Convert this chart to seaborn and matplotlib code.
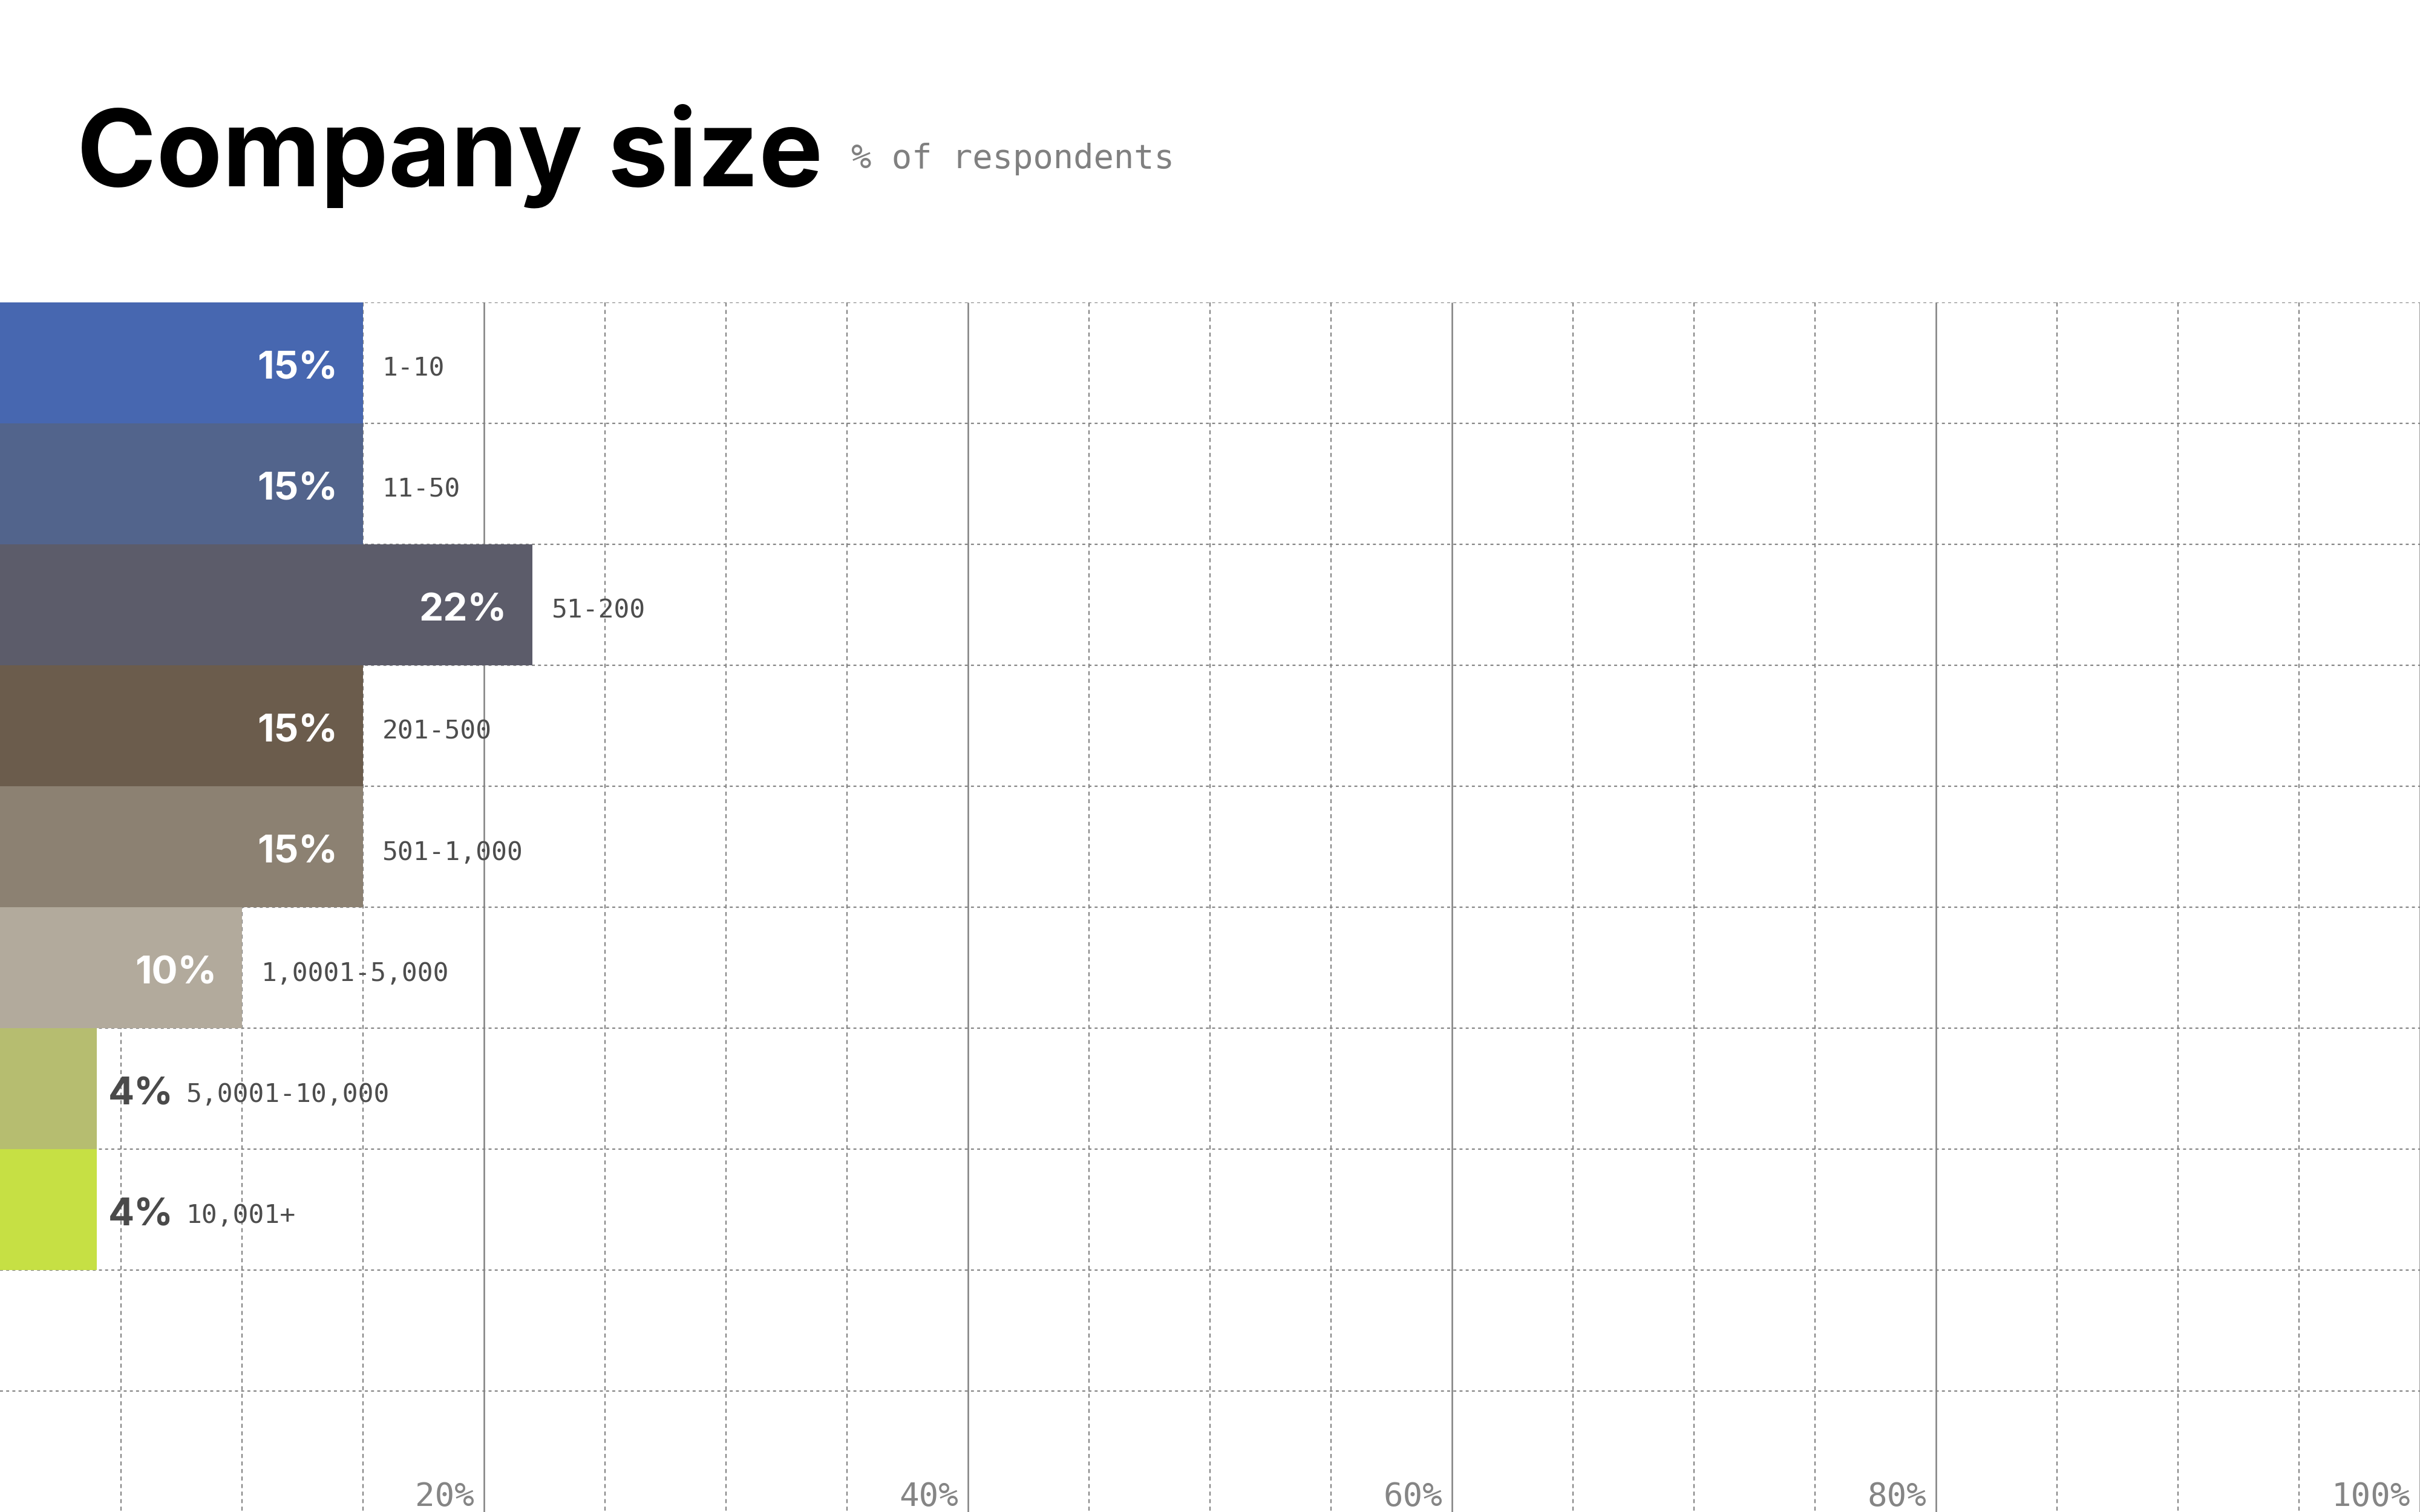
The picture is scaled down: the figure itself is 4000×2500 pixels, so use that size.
import numpy as np
import matplotlib
matplotlib.use("Agg")
import matplotlib.pyplot as plt
import seaborn as sns

# ---- data ----
categories = ["1-10", "11-50", "51-200", "201-500", "501-1,000",
              "1,0001-5,000", "5,0001-10,000", "10,001+"]
values = [15, 15, 22, 15, 15, 10, 4, 4]
bar_colors = ["#4767b0", "#52648c", "#5c5c6a", "#6b5c4c", "#8c8172",
              "#b2aa9c", "#b6bd70", "#c6e044"]
tick_values = [20, 40, 60, 80, 100]
title_text = "Company size"
subtitle_text = "% of respondents"

sns.set_style("white")
plt.rcParams["font.family"] = ["DejaVu Sans"]

W, H, DPI = 4000, 2500, 100
fig = plt.figure(figsize=(W / DPI, H / DPI), dpi=DPI)
fig.patch.set_facecolor("white")
ax = fig.add_axes([0, 0, 1, 0.8])

sns.barplot(x=values, y=categories, hue=categories, palette=bar_colors,
            orient="h", width=1.0, legend=False, ax=ax, linewidth=0,
            saturation=1, zorder=3)

ax.set_xlim(0, 100)
ax.set_ylim(9.5, -0.5)
ax.set_xticks([])
ax.set_yticks([])
ax.set_xlabel("")
ax.set_ylabel("")
for s in ax.spines.values():
    s.set_visible(False)

# ---- grid ----
grid_col = "#858585"
minor_x = [x for x in np.arange(5, 100, 5) if x % 20 != 0]
ax.vlines(minor_x, -0.5, 9.5, colors=grid_col, linewidth=1.6,
          linestyles=(0, (3.0, 2.6)), zorder=1)
ax.vlines(tick_values, -0.5, 9.5, colors="#808080", linewidth=1.8,
          linestyles="solid", zorder=1)
ax.hlines(np.arange(-0.5, 9.0, 1.0), 0, 100, colors=grid_col, linewidth=1.6,
          linestyles=(0, (2.2, 2.4)), zorder=1)

# ---- labels ----
val_font = dict(family=["Inter", "DejaVu Sans"], weight="bold", fontsize=46)
cat_font = dict(family=["DejaVu Sans Mono"], fontsize=31, color="#4d4d4d")
dy = -10  # pixels, visual centring of the digits on the bar centre

for i, (v, c) in enumerate(zip(values, categories)):
    if v >= 10:
        ax.annotate(f"{v}%", xy=(v, i), xytext=(-42, dy),
                    textcoords="offset pixels", ha="right", va="center",
                    color="white", zorder=5, **val_font)
        ax.annotate(c, xy=(v, i), xytext=(32, dy), textcoords="offset pixels",
                    ha="left", va="center", zorder=5, **cat_font)
    else:
        ax.annotate(f"{v}%", xy=(v, i), xytext=(19, dy),
                    textcoords="offset pixels", ha="left", va="center",
                    color="#4a4a4a", zorder=5, **val_font)
        ax.annotate(c, xy=(v, i), xytext=(148, dy),
                    textcoords="offset pixels", ha="left", va="center",
                    zorder=5, **cat_font)

for tv in tick_values:
    ax.annotate(f"{tv}%", xy=(tv, 0), xycoords=("data", "axes fraction"),
                xytext=(-16, 10), textcoords="offset pixels",
                ha="right", va="baseline", family=["DejaVu Sans Mono"],
                fontsize=39, color="#858585", zorder=5)

# ---- title ----
fig.text(127 / W, 1 - 307 / H, title_text, family=["Inter", "DejaVu Sans"],
         weight="bold", fontsize=128, color="black", va="baseline",
         ha="left")
fig.text(1407 / W, 1 - 278 / H, subtitle_text, family=["DejaVu Sans Mono"],
         fontsize=40, color="#808080", va="baseline", ha="left")

fig.savefig("out.png", dpi=DPI)
